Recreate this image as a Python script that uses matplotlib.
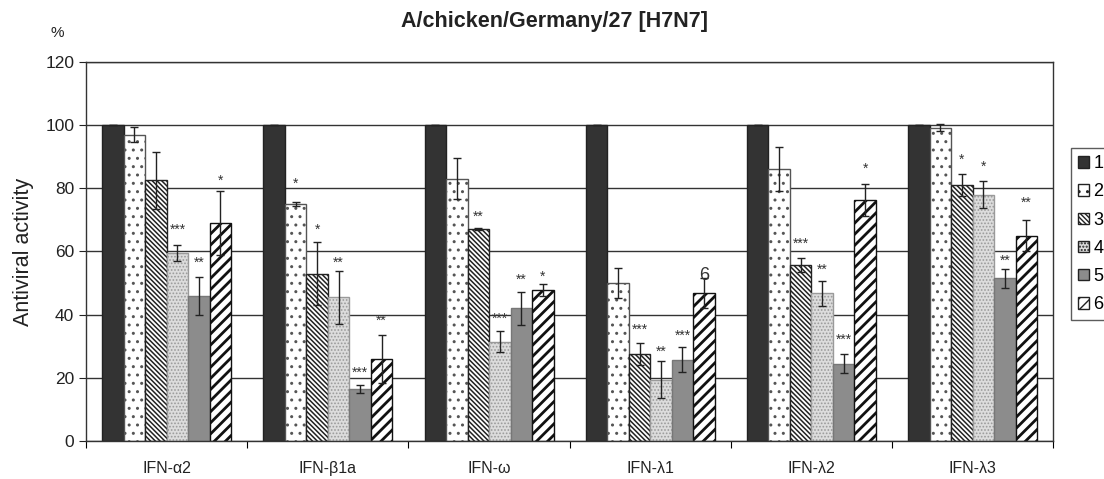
import numpy as np
import matplotlib
matplotlib.use("Agg")
from matplotlib import pyplot as plt
from matplotlib.patches import Patch

plt.rcParams['font.family'] = ['Liberation Sans', 'DejaVu Sans']

groups = ["IFN-\u03b12", "IFN-\u03b21a", "IFN-\u03c9", "IFN-\u03bb1", "IFN-\u03bb2", "IFN-\u03bb3"]
series = ["1", "2", "3", "4", "5", "6"]

# rows = groups, columns = series 1..6
values = [
    [100, 97, 82.5, 59.5, 46, 69],
    [100, 75, 53, 45.5, 16.5, 26],
    [100, 83, 67, 31.5, 42, 47.8],
    [100, 50, 27.5, 19.5, 25.8, 46.8],
    [100, 86, 55.8, 46.8, 24.5, 76.3],
    [100, 99.2, 81, 78, 51.5, 65],
]
errors = [
    [0, 2.5, 9, 2.5, 6, 10],
    [0, 0.6, 10, 8.4, 1.2, 7.5],
    [0, 6.5, 0.3, 3.3, 5.3, 1.8],
    [0, 4.8, 3.5, 5.8, 4, 4.8],
    [0, 7, 2.2, 4, 3, 5.2],
    [0, 1.2, 3.5, 4.3, 3.1, 4.8],
]
# significance marks (text, y position) per group / series
marks = [
    [None, None, None, ("***", 67), ("**", 56.5), ("*", 82.5)],
    [None, ("*", 81.5), ("*", 67), ("**", 56.5), ("***", 21.5), ("**", 38)],
    [None, None, ("**", 71), ("***", 38.8), ("**", 51), ("*", 52)],
    [None, None, ("***", 35.3), ("**", 28.3), ("***", 33.2), ("6", 52.5)],
    [None, None, ("***", 62.5), ("**", 54.3), ("***", 32.2), ("*", 86.3)],
    [None, None, ("*", 89), ("*", 86.8), ("**", 57), ("**", 75.5)],
]

faces = ['#333333', 'white', 'white', '#dcdcdc', '#8c8c8c', 'white']
edges = ['#222222', '#555555', '#222222', '#9a9a9a', '#777777', '#111111']
hatches = [None, '..', '\\\\\\\\\\\\\\', '.....', None, '///']
hatch_lw = [1, 1.0, 1.1, 0.8, 1, 2.0]

values = np.array(values)
errors = np.array(errors)

fig = plt.figure(figsize=(11.04, 4.79), dpi=100)
ax = fig.add_axes([0.078, 0.079, 0.876, 0.792])

ng = len(groups)
width = 0.8 / 6
x = np.arange(ng) + 0.5

for i in range(6):
    pos = x - 0.4 + width * (i + 0.5)
    bars = ax.bar(pos, values[:, i], width, color=faces[i], edgecolor=edges[i],
                  hatch=hatches[i], linewidth=1, zorder=2)
    for b in bars:
        try:
            b.set_hatch_linewidth(hatch_lw[i])
        except AttributeError:
            pass
    ax.errorbar(pos, values[:, i], yerr=errors[:, i], fmt='none', ecolor='#222222',
                elinewidth=1, capsize=3, capthick=1, zorder=3)
    for g in range(ng):
        m = marks[g][i]
        if m:
            fs = 13 if m[0] == "6" else 10
            ax.text(pos[g], m[1], m[0], ha='center', va='center', fontsize=fs,
                    color='#333333', zorder=4)

ax.set_xlim(0, ng)
ax.set_ylim(0, 120)
ax.set_yticks(np.arange(0, 121, 20))
ax.tick_params(axis='y', labelsize=12.5, length=5, direction='out', colors='#222222')
ax.set_xticks(np.arange(0, ng + 1))
ax.set_xticklabels([])
ax.set_xticks(x, minor=True)
ax.set_xticklabels(groups, minor=True, fontsize=11.5, color='#222222')
ax.tick_params(axis='x', which='major', length=5, direction='out')
ax.tick_params(axis='x', which='minor', length=0, pad=14)
ax.yaxis.grid(True, color='#333333', linewidth=1)
ax.set_axisbelow(True)
for s in ax.spines.values():
    s.set_color('#333333')
    s.set_linewidth(1)

ax.set_ylabel("Antiviral activity", fontsize=15.5, color='#222222', labelpad=8)
fig.text(0.502, 1 - 21 / 479, "A/chicken/Germany/27 [H7N7]", ha='center', va='center',
         fontsize=15.5, fontweight='bold', color='#222222')
fig.text(0.052, 0.932, "%", ha='center', va='center', fontsize=11, color='#222222')

handles = [Patch(facecolor=faces[i], edgecolor='#222222', hatch=hatches[i]) for i in range(6)]
leg = fig.legend(handles, series, loc='upper left', bbox_to_anchor=(1071 / 1104, 1 - 148 / 479),
                 borderaxespad=0, frameon=True, fancybox=False, edgecolor='#333333',
                 fontsize=13, handlelength=0.6, handleheight=0.6, handletextpad=0.25,
                 labelspacing=0.62, borderpad=0.4)
leg.get_frame().set_linewidth(1)

fig.savefig("out.png", dpi=100)
